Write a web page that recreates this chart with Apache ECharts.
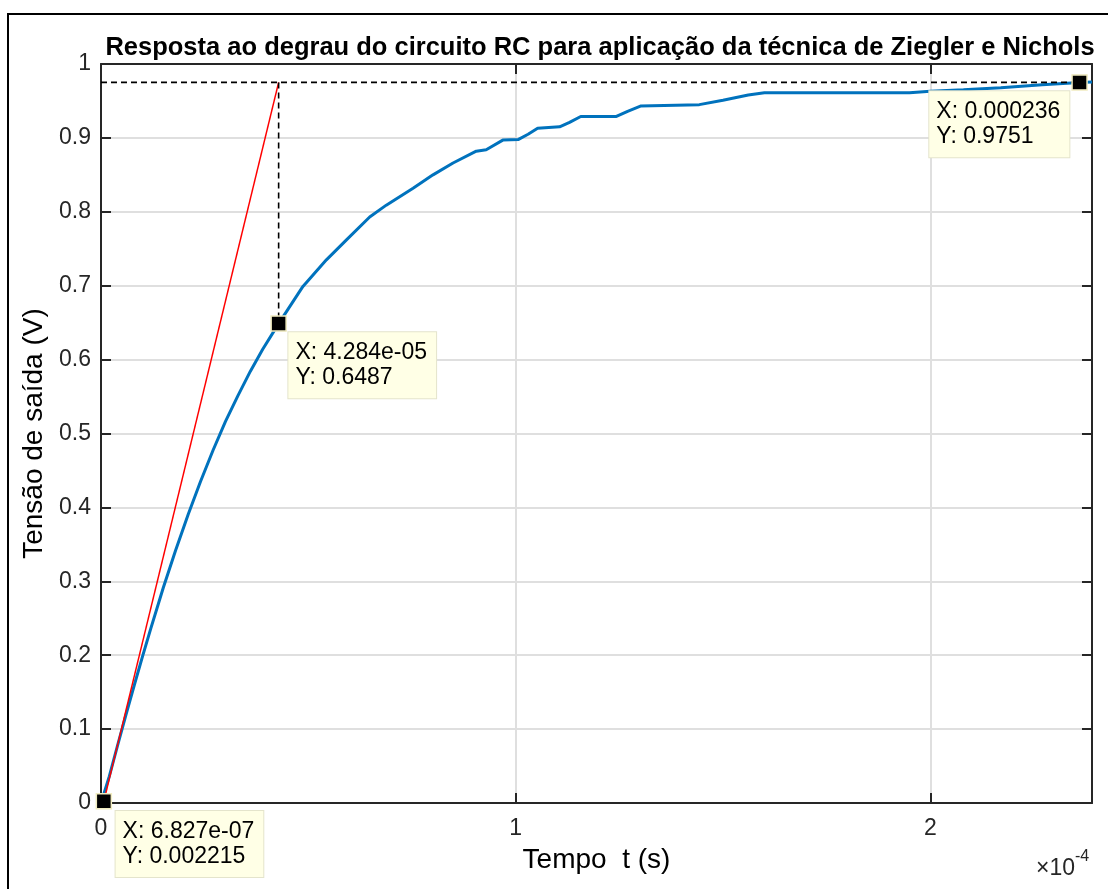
<!DOCTYPE html>
<html><head><meta charset="utf-8">
<script src="https://cdn.jsdelivr.net/npm/echarts@6/dist/echarts.min.js"></script>
<style>html,body{margin:0;padding:0;background:#fff}#c{width:1108px;height:889px}</style>
</head><body><div id="c"></div>
<script>
// Time in units of 1e-4 s (axis shows ×10^-4)
const tempo = [0,0.02,0.04,0.06,0.08,0.10,0.12,0.15,0.18,0.21,0.24,0.27,0.30,0.33,0.36,0.39,0.4284,0.487,0.5436,0.592,0.648,0.688,0.7526,0.8007,0.849,0.905,0.929,0.969,1.007,1.03,1.053,1.106,1.13,1.157,1.243,1.27,1.301,1.443,1.50,1.561,1.60,1.95,2.00,2.08,2.17,2.27,2.36,2.39];
const tensao = [0,0.036,0.078,0.119,0.159,0.198,0.236,0.291,0.342,0.390,0.435,0.477,0.516,0.551,0.584,0.614,0.6487,0.699,0.735,0.762,0.793,0.809,0.832,0.850,0.866,0.882,0.884,0.897,0.898,0.905,0.913,0.915,0.921,0.929,0.929,0.936,0.943,0.945,0.951,0.958,0.961,0.961,0.963,0.965,0.968,0.972,0.9751,0.9757];
const tangTempo = [0.006827, 0.4284];
const tangTensao = [0.002215, 0.9751];
const tipTempo = [0.006827, 0.4284, 2.36];
const tipTensao = [0.002215, 0.6487, 0.9751];
const tipXText = ['6.827e-07', '4.284e-05', '0.000236'];
const tipYText = ['0.002215', '0.6487', '0.9751'];
const xTicks = [0, 1, 2];
const titulo = 'Resposta ao degrau do circuito RC para aplicação da técnica de Ziegler e Nichols';
const xNome = 'Tempo  t (s)';
const yNome = 'Tensão de saída (V)';

const FONT = '"Liberation Sans", Arial, Helvetica, sans-serif';
const AX = '#262626';
const chart = echarts.init(document.getElementById('c'), null, {renderer: 'canvas'});

const zip = (a, b) => a.map((v, i) => [v, b[i]]);
const axisLineStyle = {show: true, onZero: false, lineStyle: {color: AX, width: 2}};
const tickStyle = {show: true, inside: true, length: 10, lineStyle: {color: AX, width: 2}};

const tipOffsets = [[20, 18], [18, 17], [-142, 17]];

chart.setOption({
  animation: false,
  backgroundColor: '#fff',
  title: {
    text: titulo, left: 595, top: 30, textAlign: 'center',
    textStyle: {fontFamily: FONT, fontWeight: 'bold', fontSize: 25.5, color: '#000'}
  },
  grid: {left: 101, right: 16, top: 64, bottom: 86, containLabel: false},
  xAxis: [{
    type: 'value', min: 0, max: 2.39, interval: 1, position: 'bottom',
    axisLine: axisLineStyle, axisTick: tickStyle,
    axisLabel: {color: AX, fontSize: 23, fontFamily: FONT, margin: 14,
      formatter: v => xTicks.includes(Math.round(v * 1000) / 1000) ? String(Math.round(v)) : ''},
    splitLine: {show: true, lineStyle: {color: '#dfdfdf', width: 2}},
    name: xNome, nameLocation: 'middle', nameGap: 43,
    nameTextStyle: {color: '#000', fontSize: 28, fontFamily: FONT}
  }, {
    type: 'value', min: 0, max: 2.39, interval: 1, position: 'top',
    axisLine: axisLineStyle, axisTick: tickStyle,
    axisLabel: {show: false}, splitLine: {show: false}
  }],
  yAxis: [{
    type: 'value', min: 0, max: 1, interval: 0.1, position: 'left',
    axisLine: axisLineStyle, axisTick: tickStyle,
    axisLabel: {color: AX, fontSize: 23, fontFamily: FONT, margin: 10,
      formatter: v => String(+v.toFixed(1))},
    splitLine: {show: true, lineStyle: {color: '#dfdfdf', width: 2}},
    name: yNome, nameLocation: 'middle', nameGap: 48, nameRotate: 90,
    nameTextStyle: {color: '#000', fontSize: 28, fontFamily: FONT}
  }, {
    type: 'value', min: 0, max: 1, interval: 0.1, position: 'right',
    axisLine: axisLineStyle, axisTick: tickStyle,
    axisLabel: {show: false}, splitLine: {show: false}
  }],
  series: [
    {
      type: 'line', data: zip(tempo, tensao), showSymbol: false, symbol: 'none',
      lineStyle: {color: '#0072BD', width: 3}, z: 2, clip: false
    },
    {
      type: 'line', data: zip(tangTempo, tangTensao), showSymbol: false, symbol: 'none',
      lineStyle: {color: '#FF0000', width: 1.5}, z: 3, clip: false
    },
    {
      type: 'line', data: [[0, tipTensao[2]], [tipTempo[2], tipTensao[2]]], showSymbol: false, symbol: 'none',
      lineStyle: {color: '#000', width: 1.6, type: [6, 4]}, z: 4
    },
    {
      type: 'line', data: [[tipTempo[1], tipTensao[2]], [tipTempo[1], tipTensao[1]]], showSymbol: false, symbol: 'none',
      lineStyle: {color: '#000', width: 1.6, type: [6, 4]}, z: 4
    },
    {
      type: 'scatter', clip: false, z: 10,
      symbol: 'rect', symbolSize: 15,
      itemStyle: {color: '#000', borderColor: '#f1ecc0', borderWidth: 1.5, opacity: 1},
      data: tipTempo.map((t, i) => ({
        value: [t, tipTensao[i]],
        label: {
          show: true,
          position: tipOffsets[i],
          align: 'left',
          verticalAlign: 'top',
          formatter: 'X: ' + tipXText[i] + '\nY: ' + tipYText[i],
          fontFamily: FONT, fontSize: 23, lineHeight: 25, color: '#000',
          backgroundColor: '#FFFFE6', borderColor: '#e4e4cc', borderWidth: 1,
          padding: [8, 9, 8, 7]
        }
      }))
    }
  ],
  graphic: [
    {type: 'rect', silent: true, z: 100, shape: {x: 8, y: 14, width: 1200, height: 1000},
     style: {fill: 'none', stroke: '#000', lineWidth: 2}},
    {type: 'text', z: 100, x: 1075, y: 869,
     style: {text: '×10', font: '23px ' + FONT, fill: AX, textAlign: 'right', textVerticalAlign: 'middle'}},
    {type: 'text', z: 100, x: 1075, y: 857,
     style: {text: '-4', font: '16px ' + FONT, fill: AX, textAlign: 'left', textVerticalAlign: 'middle'}}
  ]
});
</script>
</body></html>
